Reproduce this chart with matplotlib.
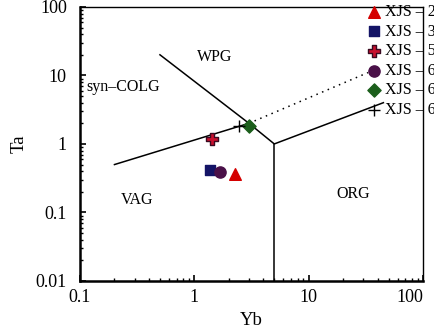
import matplotlib
matplotlib.use("Agg")
import matplotlib.pyplot as plt
from matplotlib.ticker import FuncFormatter

plt.rcParams['font.family'] = ['Liberation Serif', 'DejaVu Serif']

# sample data (Yb, Ta)
samples = ['XJS – 25', 'XJS – 34', 'XJS – 58', 'XJS – 64', 'XJS – 65', 'XJS – 67']
yb = [2.25, 1.37, 1.42, 1.68, 3.0, 2.48]
ta = [0.37, 0.41, 1.18, 0.39, 1.85, 1.85]
markers = ['^', 's', 'P', 'o', 'D', '+']
colors = ['#d40000', '#141466', '#c8102e', '#4a1048', '#1b5e1b', '#000000']
edges = ['#d40000', '#141466', '#3a0a20', '#4a1048', '#1b5e1b', '#000000']
sizes = [70, 60, 65, 65, 45, 70]

# discrimination boundaries (Pearce et al. 1984)
line_upper_x = [0.5, 3, 5, 45]
line_upper_y = [20, 2, 1, 4]
line_vert_x = [5, 5]
line_vert_y = [1, 0.01]
line_lower_x = [0.2, 3]
line_lower_y = [0.5, 2]
line_dot_x = [3, 33]
line_dot_y = [2, 11]

fields = ['WPG', 'syn–COLG', 'VAG', 'ORG']
field_x = [1.52, 0.238, 0.316, 24.4]
field_y = [18.6, 6.8, 0.152, 0.186]

fig = plt.figure(figsize=(4.35, 3.29), dpi=100)
ax = fig.add_axes([0.184, 0.146, 0.7885, 0.833])

ax.plot(line_upper_x, line_upper_y, color='black', lw=1.1)
ax.plot(line_vert_x, line_vert_y, color='black', lw=1.1)
ax.plot(line_lower_x, line_lower_y, color='black', lw=1.1)
ax.plot(line_dot_x, line_dot_y, color='black', lw=1.1, ls=(0, (1, 3)))

for i in range(len(samples)):
    ax.scatter(yb[i], ta[i], marker=markers[i], s=sizes[i], c=colors[i],
               edgecolors=edges[i], linewidths=1.0, label=samples[i], zorder=3)

for i in range(len(fields)):
    ax.text(field_x[i], field_y[i], fields[i], fontsize=11.5, ha='center', va='center')

ax.set_xscale('log')
ax.set_yscale('log')
ax.set_xlim(0.1, 100)
ax.set_ylim(0.01, 100)
fmt = FuncFormatter(lambda v, _: f'{v:g}')
ax.xaxis.set_major_formatter(fmt)
ax.yaxis.set_major_formatter(fmt)
ax.xaxis.set_minor_formatter(FuncFormatter(lambda v, _: ''))
ax.yaxis.set_minor_formatter(FuncFormatter(lambda v, _: ''))
ax.tick_params(which='both', direction='in', top=False, right=False, labelsize=13)
ax.tick_params(which='major', length=4, width=1.2)
ax.tick_params(which='minor', length=2.5, width=1)
ax.tick_params(axis='x', pad=6)
ax.tick_params(axis='y', pad=9.5)
for s in ax.spines.values():
    s.set_linewidth(1.0)
ax.spines['left'].set_linewidth(1.8)
ax.spines['bottom'].set_linewidth(1.8)

ax.set_xlabel('Yb', fontsize=13.5, labelpad=4)
ax.set_ylabel('Ta', fontsize=13.5, labelpad=6)

# keep the last x label inside the figure
fig.canvas.draw()
for lab in ax.get_xticklabels():
    if lab.get_text() == '100':
        lab.set_horizontalalignment('right')

ax.legend(loc='upper left', bbox_to_anchor=(0.834, 1.01), frameon=False,
          fontsize=11.5, handlelength=1, handletextpad=0.2, labelspacing=0.22,
          borderpad=0, borderaxespad=0)

fig.savefig('out.png', dpi=100)
